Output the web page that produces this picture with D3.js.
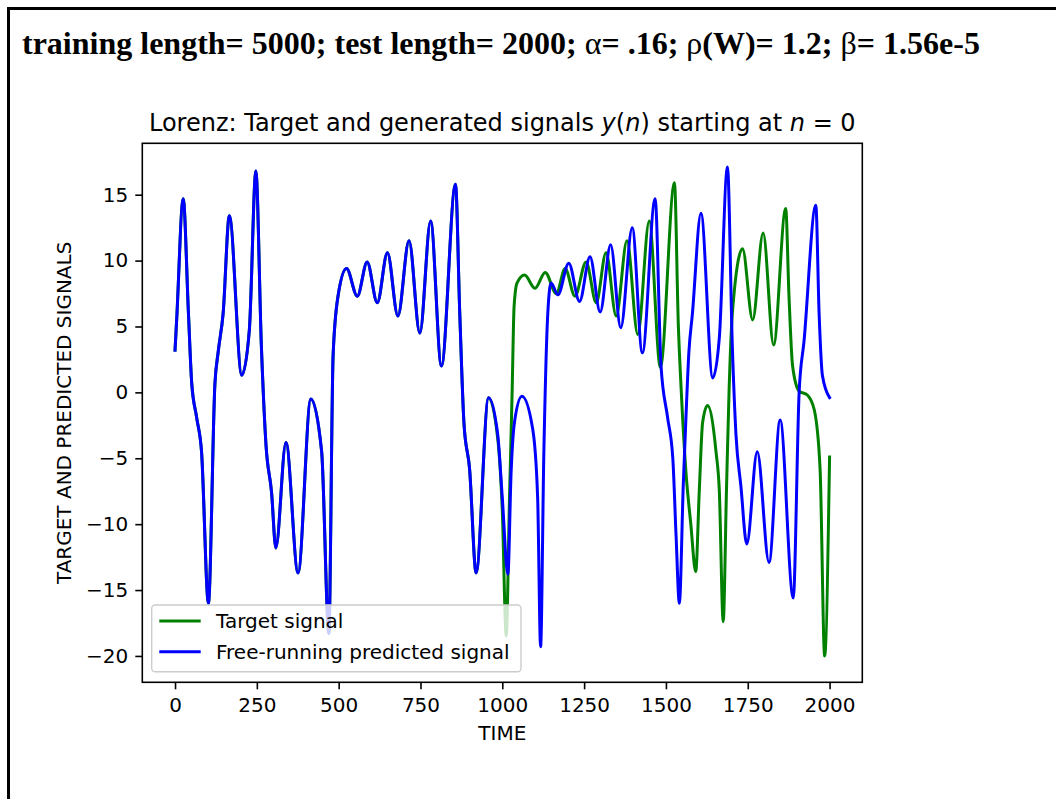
<!DOCTYPE html>
<html>
<head>
<meta charset="utf-8">
<script src="https://cdn.jsdelivr.net/npm/d3@7"></script>
<style>
  body { margin: 0; background: #fff; }
  svg { display: block; }
</style>
</head>
<body>
<svg id="chart" width="1056" height="799"></svg>
<script>
// values: [time, signal]
// both signals run together until ~t=990, then split
const sharedStart = [
    [0, 3.2], [5, 5.5], [25, 14.7], [41, 6.0], [51, 0.7], [66, -1.9], [81, -4.5],
    [102, -16.0], [122, 0.7], [132, 3.1], [147, 6.0], [166, 13.4], [204, 1.3],
    [227, 4.7], [247, 16.8], [264, 3.4], [278, -4.0], [295, -7.6], [308, -11.8],
    [339, -3.8], [376, -13.7], [415, -0.5], [448, -4.5], [470, -18.3], [483, 2.8],
    [498, 7.3], [524, 9.4], [557, 7.3], [587, 9.9], [618, 6.8], [649, 10.6],
    [681, 5.8], [715, 11.5], [748, 4.5], [781, 13.0], [814, 2.0], [857, 15.8],
    [870, 6.0], [883, -2.4], [900, -5.8], [920, -13.7], [958, -0.4]
]

const targetTail = [
    [986, -3.5], [1000, -9.0], [1012, -18.5], [1022, -8.0], [1030, 0.0], [1036, 6.5],
    [1045, 8.3], [1068, 8.9], [1100, 7.9], [1131, 9.1], [1165, 7.5], [1192, 9.4],
    [1222, 7.3], [1256, 9.9], [1287, 6.8], [1317, 10.6], [1348, 5.8], [1381, 11.5],
    [1414, 4.4], [1449, 13.0], [1483, 1.9], [1526, 15.9], [1538, 5.0], [1547, 0.0],
    [1561, -6.0], [1576, -10.0], [1591, -13.6], [1602, -7.4], [1612, -2.3],
    [1627, -1.0], [1653, -4.5], [1663, -7.4], [1675, -17.4], [1685, -7.4],
    [1693, 0.2], [1703, 6.0], [1734, 10.9], [1765, 5.5], [1797, 12.1], [1829, 3.6],
    [1866, 13.95], [1876, 7.3], [1887, 2.0], [1907, 0.1], [1932, -0.2], [1953, -1.3],
    [1971, -5.8], [1985, -20.0], [2000, -4.9]
]

const predictedTail = [
    [986, -3.2], [1000, -8.0], [1017, -13.8], [1027, -6.0], [1037, -2.3], [1060, -0.3],
    [1093, -2.8], [1108, -8.0], [1117, -19.3], [1127, -4.5], [1139, 6.0], [1149, 8.3],
    [1170, 7.4], [1203, 9.8], [1236, 6.9], [1268, 10.3], [1299, 6.1], [1331, 11.2],
    [1362, 4.9], [1397, 12.5], [1428, 3.0], [1467, 14.7], [1485, 2.0], [1505, -1.9],
    [1521, -5.0], [1531, -10.9], [1541, -16.0], [1553, -7.0], [1561, -2.0], [1570, 3.0],
    [1581, 6.0], [1607, 13.6], [1643, 1.1], [1663, 4.1], [1688, 17.1], [1703, 3.4],
    [1714, -3.2], [1729, -7.1], [1747, -11.5], [1779, -4.5], [1815, -12.9],
    [1849, -2.1], [1889, -15.6], [1907, 0.0], [1922, 3.9], [1958, 14.2], [1968, 6.0],
    [1978, 1.3], [2000, -0.4]
]

const target = sharedStart.concat(targetTail)
const predicted = sharedStart.concat(predictedTail)

const xTicks = [0, 250, 500, 750, 1000, 1250, 1500, 1750, 2000]
const yTicks = [-20, -15, -10, -5, 0, 5, 10, 15]
const seriesNames = ["Target signal", "Free-running predicted signal"]
const seriesColors = ["green", "blue"]

// heading pieces: [text, isGreek]
const headingParts = [
    ["training length= 5000; test length= 2000; ", false],
    ["\u03b1", true], ["= .16; ", false],
    ["\u03c1", true], ["(W)= 1.2; ", false],
    ["\u03b2", true], ["= 1.56e-5", false]
]

// axes box in page pixels
const box = { left: 142.3, top: 143.3, right: 862.3, bottom: 682.3 }

const svg = d3.select("#chart")

// outer frame (left and top edge only)
svg.append("path")
    .attr("d", "M8.5,799V8.5H1056")
    .attr("fill", "none")
    .attr("stroke", "black")
    .attr("stroke-width", 3)

// heading
const heading = svg.append("text")
    .attr("x", 22)
    .attr("y", 54)
    .attr("font-family", "'Liberation Serif', 'Times New Roman', serif")
    .attr("font-weight", "bold")
    .attr("font-size", 32)
headingParts.forEach(p => {
    heading.append("tspan")
        .attr("font-weight", p[1] ? "normal" : "bold")
        .text(p[0])
})

const x = d3.scaleLinear().domain([-100, 2100]).range([box.left, box.right])
const y = d3.scaleLinear().domain([-22, 18.9]).range([box.bottom, box.top])

const font = "'DejaVu Sans', sans-serif"
const fs = 20

// title with italic math parts
const title = svg.append("text")
    .attr("x", (box.left + box.right) / 2)
    .attr("y", 131)
    .attr("text-anchor", "middle")
    .attr("font-family", font)
    .attr("font-size", 24)
title.append("tspan").text("Lorenz: Target and generated signals ")
title.append("tspan").attr("font-style", "italic").text("y")
title.append("tspan").text("(")
title.append("tspan").attr("font-style", "italic").text("n")
title.append("tspan").text(") starting at ")
title.append("tspan").attr("font-style", "italic").text("n")
title.append("tspan").text(" = 0")

const lineGen = d3.line()
    .x(d => x(d[0]))
    .y(d => y(d[1]))
    .curve(d3.curveMonotoneX)

const plot = svg.append("g")

plot.append("path")
    .datum(target)
    .attr("d", lineGen)
    .attr("fill", "none")
    .attr("stroke", seriesColors[0])
    .attr("stroke-width", 3)
    .attr("stroke-linejoin", "round")
    .attr("stroke-linecap", "square")

plot.append("path")
    .datum(predicted)
    .attr("d", lineGen)
    .attr("fill", "none")
    .attr("stroke", seriesColors[1])
    .attr("stroke-width", 3)
    .attr("stroke-linejoin", "round")
    .attr("stroke-linecap", "square")

// axes
const xAxis = d3.axisBottom(x).tickValues(xTicks).tickSize(7).tickPadding(7)
    .tickFormat(d3.format("d"))
const yAxis = d3.axisLeft(y).tickValues(yTicks).tickSize(7).tickPadding(7)
    .tickFormat(d => d < 0 ? "\u2212" + Math.abs(d) : d)

const gx = svg.append("g")
    .attr("transform", `translate(0,${box.bottom})`)
    .call(xAxis)
const gy = svg.append("g")
    .attr("transform", `translate(${box.left},0)`)
    .call(yAxis)

for (const g of [gx, gy]) {
    g.select(".domain").remove()
    g.selectAll("line").attr("stroke", "black").attr("stroke-width", 1.6)
    g.selectAll("text")
        .attr("font-family", font)
        .attr("font-size", fs)
        .attr("fill", "black")
}
gx.selectAll("text").attr("dy", "0.8em")

// frame around plot
svg.append("rect")
    .attr("x", box.left)
    .attr("y", box.top)
    .attr("width", box.right - box.left)
    .attr("height", box.bottom - box.top)
    .attr("fill", "none")
    .attr("stroke", "black")
    .attr("stroke-width", 1.6)

// axis labels
svg.append("text")
    .attr("x", (box.left + box.right) / 2)
    .attr("y", 733)
    .attr("text-anchor", "middle")
    .attr("dominant-baseline", "central")
    .attr("font-family", font)
    .attr("font-size", fs)
    .text("TIME")

svg.append("text")
    .attr("transform", `translate(63.5,${(box.top + box.bottom) / 2}) rotate(-90)`)
    .attr("text-anchor", "middle")
    .attr("dominant-baseline", "central")
    .attr("font-family", font)
    .attr("font-size", fs)
    .text("TARGET AND PREDICTED SIGNALS")

// legend
const legend = svg.append("g")
legend.append("rect")
    .attr("x", 151.7)
    .attr("y", 605)
    .attr("width", 369.3)
    .attr("height", 66.7)
    .attr("rx", 3.5)
    .attr("fill", "white")
    .attr("fill-opacity", 0.8)
    .attr("stroke", "#cccccc")
    .attr("stroke-width", 1.4)

seriesNames.forEach((name, i) => {
    const ly = 621 + i * 30.7
    legend.append("line")
        .attr("x1", 159.3).attr("x2", 200.7)
        .attr("y1", ly).attr("y2", ly)
        .attr("stroke", seriesColors[i])
        .attr("stroke-width", 3)
    legend.append("text")
        .attr("x", 216)
        .attr("y", ly)
        .attr("dominant-baseline", "central")
        .attr("font-family", font)
        .attr("font-size", fs)
        .text(name)
})
</script>
</body>
</html>
